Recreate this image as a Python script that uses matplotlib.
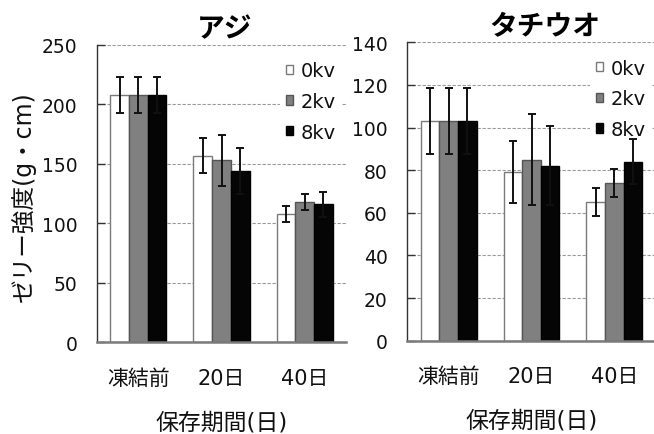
import matplotlib
matplotlib.use("Agg")
import matplotlib.pyplot as plt
import numpy as np

plt.rcParams['font.family'] = ['DejaVu Sans', 'Noto Sans CJK JP']

categories = ['凍結前', '20日', '40日']
series_labels = ['0kv', '2kv', '8kv']

aji_means = [[208, 157, 108], [208, 153, 118], [208, 144, 116]]
aji_errs = [[15.5, 15, 7], [15.5, 21.5, 6.5], [15.5, 19, 10.5]]

tachi_means = [[103, 79, 65], [103, 85, 74], [103, 82, 84]]
tachi_errs = [[15.5, 14.5, 6.5], [15.5, 21.5, 6.5], [15.5, 18.5, 10.5]]

face_colors = ['#ffffff', '#808080', '#050505']
edge_colors = ['#7a7a7a', '#555555', '#000000']

fig = plt.figure(figsize=(6.54, 4.35), dpi=100)

W, H = 654.0, 435.0
ax1 = fig.add_axes([96.7 / W, (H - 343.3) / H, 249.6 / W, 297.3 / H])
ax2 = fig.add_axes([407.3 / W, (H - 341.7) / H, 248.4 / W, 298.4 / H])

text_color = '#111111'


def draw_panel(ax, means, errs, ymax, ystep, title, title_x, legend_anchor):
    x = np.arange(len(categories))
    width = 0.225
    bars = []
    for i, (m, e) in enumerate(zip(means, errs)):
        pos = x + (i - 1) * width
        b = ax.bar(pos, m, width, color=face_colors[i], edgecolor=edge_colors[i],
                   linewidth=1.0, label=series_labels[i], zorder=2)
        ax.errorbar(pos, m, yerr=e, fmt='none', ecolor='#111111', elinewidth=1.4,
                    capsize=2.9, capthick=1.4, zorder=6)
        bars.append(b)
    ax.set_xlim(-0.5, len(categories) - 0.5)
    ax.set_ylim(0, ymax)
    ax.set_yticks(np.arange(0, ymax + 1, ystep))
    ax.set_xticks(x)
    ax.set_xticklabels(categories, fontsize=15, color=text_color)
    ax.tick_params(axis='x', length=0, pad=18.5)
    ax.tick_params(axis='y', direction='in', length=6, width=1, color='#333333',
                   labelsize=13.5, labelcolor=text_color, pad=14)
    ax.yaxis.grid(True, linestyle=(0, (3, 1.5)), color='#9a9a9a', linewidth=0.8)
    ax.set_axisbelow(True)
    for s in ['top', 'right']:
        ax.spines[s].set_visible(False)
    ax.spines['left'].set_color('#333333')
    ax.spines['left'].set_linewidth(1.0)
    ax.spines['bottom'].set_color('#7a7a7a')
    ax.spines['bottom'].set_linewidth(1.8)
    ax.set_xlabel('保存期間(日)', fontsize=16.5, color=text_color, labelpad=16)
    ax.text(title_x, 1.055, title, transform=ax.transAxes, ha='center', va='center',
            fontsize=20, fontweight='bold', color='#000000')
    leg = ax.legend(handles=bars, loc='upper left', bbox_to_anchor=legend_anchor,
                    borderaxespad=0, frameon=True, fancybox=False, framealpha=1,
                    facecolor='white', edgecolor='none', fontsize=14,
                    handlelength=0.36, handleheight=0.36, handletextpad=0.4,
                    labelspacing=0.6, borderpad=0.3)
    for t in leg.get_texts():
        t.set_color(text_color)
    leg.set_zorder(5)


draw_panel(ax1, aji_means, aji_errs, 250, 50, 'アジ', 0.514, (0.734, 0.965))
draw_panel(ax2, tachi_means, tachi_errs, 140, 20, 'タチウオ', 0.552, (0.7355, 0.965))

ax1.set_ylabel('ゼリー強度(g・cm)', fontsize=17, color=text_color)
ax1.yaxis.set_label_coords(-0.245, 0.495)

fig.savefig('out.png', dpi=100)
